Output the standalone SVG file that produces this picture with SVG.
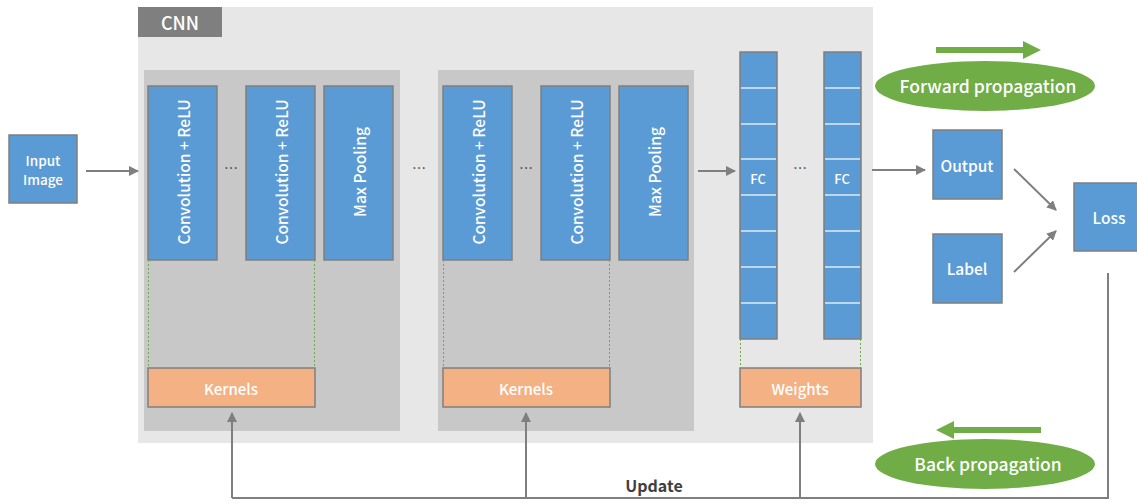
<svg xmlns="http://www.w3.org/2000/svg" width="1137" height="503" viewBox="0 0 1137 503">
<style>
.t{font-family:"Noto Sans CJK JP","Noto Sans",sans-serif;font-weight:500;fill:#fff;text-anchor:middle;dominant-baseline:central}
.blue{fill:#5b9bd5;stroke:#7f7f7f;stroke-width:1.5}
.orange{fill:#f4b183;stroke:#7f7f7f;stroke-width:1.5}
.conn{stroke:#7f7f7f;stroke-width:2;fill:none}
.dot{stroke:#70ad47;stroke-width:1;stroke-dasharray:2,2;fill:none}
.sep{stroke:#deebf7;stroke-width:1.5}
.dots{font-family:"Noto Sans CJK JP","Noto Sans",sans-serif;fill:#333;font-size:14px;text-anchor:middle}
</style>
<defs>
<marker id="ah" markerWidth="10" markerHeight="10" refX="9" refY="5" orient="auto" markerUnits="userSpaceOnUse">
<path d="M0,0 L10,5 L0,10 z" fill="#7f7f7f"/>
</marker>
</defs>
<rect width="1137" height="503" fill="#fff"/>
<g id="cnn">
<rect x="138" y="7" width="735" height="436" fill="#e7e7e7"/>
<rect x="138" y="7" width="84" height="30" fill="#7f7f7f"/>
<text class="t" x="180" y="22" font-size="18">CNN</text>
</g>
<g id="block1">
<rect x="144" y="70" width="256" height="361" fill="#c8c8c8"/>
</g>
<g id="block2">
<rect x="438" y="70" width="256" height="361" fill="#c8c8c8"/>
</g>
<g id="input">
<rect class="blue" x="9" y="135" width="68" height="68"/>
<text class="t" x="43" y="159.5" font-size="13.5">Input</text>
<text class="t" x="43" y="178.5" font-size="13.5">Image</text>
</g>
<g id="conv1a">
<rect class="blue" x="148" y="86" width="69" height="174"/>
<text class="t" font-size="15.5" transform="translate(183,172) rotate(-90)">Convolution + ReLU</text>
</g>
<g id="conv1b">
<rect class="blue" x="246" y="86" width="69" height="174"/>
<text class="t" font-size="15.5" transform="translate(281,172) rotate(-90)">Convolution + ReLU</text>
</g>
<g id="pool1">
<rect class="blue" x="324" y="86" width="69" height="174"/>
<text class="t" font-size="15.5" transform="translate(359,172) rotate(-90)">Max Pooling</text>
</g>
<g id="kernels1">
<rect class="orange" x="148" y="368" width="167" height="39"/>
<text class="t" x="231" y="388" font-size="15">Kernels</text>
</g>
<g id="conv2a">
<rect class="blue" x="443" y="86" width="69" height="174"/>
<text class="t" font-size="15.5" transform="translate(478,172) rotate(-90)">Convolution + ReLU</text>
</g>
<g id="conv2b">
<rect class="blue" x="541" y="86" width="69" height="174"/>
<text class="t" font-size="15.5" transform="translate(576,172) rotate(-90)">Convolution + ReLU</text>
</g>
<g id="pool2">
<rect class="blue" x="619" y="86" width="69" height="174"/>
<text class="t" font-size="15.5" transform="translate(654,172) rotate(-90)">Max Pooling</text>
</g>
<g id="kernels2">
<rect class="orange" x="443" y="368" width="167" height="39"/>
<text class="t" x="526" y="388" font-size="15">Kernels</text>
</g>
<g id="fc1">
<rect class="blue" x="740" y="52" width="37" height="287"/>
<line class="sep" x1="741" x2="776" y1="88" y2="88"/>
<line class="sep" x1="741" x2="776" y1="124" y2="124"/>
<line class="sep" x1="741" x2="776" y1="159" y2="159"/>
<line class="sep" x1="741" x2="776" y1="195" y2="195"/>
<line class="sep" x1="741" x2="776" y1="231" y2="231"/>
<line class="sep" x1="741" x2="776" y1="267" y2="267"/>
<line class="sep" x1="741" x2="776" y1="303" y2="303"/>
<text class="t" x="758" y="178" font-size="13">FC</text>
</g>
<g id="fc2">
<rect class="blue" x="824" y="52" width="37" height="287"/>
<line class="sep" x1="825" x2="860" y1="88" y2="88"/>
<line class="sep" x1="825" x2="860" y1="124" y2="124"/>
<line class="sep" x1="825" x2="860" y1="159" y2="159"/>
<line class="sep" x1="825" x2="860" y1="195" y2="195"/>
<line class="sep" x1="825" x2="860" y1="231" y2="231"/>
<line class="sep" x1="825" x2="860" y1="267" y2="267"/>
<line class="sep" x1="825" x2="860" y1="303" y2="303"/>
<text class="t" x="842" y="178" font-size="13">FC</text>
</g>
<g id="weights">
<rect class="orange" x="740" y="368" width="121" height="39"/>
<text class="t" x="800" y="388" font-size="15">Weights</text>
</g>
<g id="output">
<rect class="blue" x="933" y="130" width="69" height="69"/>
<text class="t" x="967" y="165" font-size="15.5">Output</text>
</g>
<g id="label">
<rect class="blue" x="933" y="234" width="69" height="69"/>
<text class="t" x="967" y="268" font-size="15.5">Label</text>
</g>
<g id="loss">
<rect class="blue" x="1074" y="183" width="70" height="68"/>
<text class="t" x="1109" y="217" font-size="15.5">Loss</text>
</g>
<g id="forward">
<path d="M936,47 H1023 V41 L1041,50 L1023,59 V53 H936 z" fill="#70ad47"/>
<ellipse cx="985" cy="86" rx="110" ry="25" fill="#70ad47"/>
<text class="t" x="988" y="85" font-size="17.5">Forward propagation</text>
</g>
<g id="back">
<path d="M1041,427 H954 V421 L936,430 L954,439 V433 H1041 z" fill="#70ad47"/>
<ellipse cx="985" cy="464" rx="110" ry="25" fill="#70ad47"/>
<text class="t" x="988" y="463" font-size="17.5">Back propagation</text>
</g>
<g id="ellipses">
<text class="dots" x="231" y="173">…</text>
<text class="dots" x="419" y="173">…</text>
<text class="dots" x="526" y="173">…</text>
<text class="dots" x="800" y="173">…</text>
</g>
<g id="connectors">
<path class="dot" d="M148.5,260 V368 M314.5,260 V368"/>
<path class="dot" d="M443.5,260 V368 M609.5,260 V368"/>
<path class="dot" d="M740.5,339 V368 M860.5,339 V368"/>
<line class="conn" x1="86" y1="171" x2="138" y2="171" marker-end="url(#ah)"/>
<line class="conn" x1="698" y1="171" x2="735" y2="171" marker-end="url(#ah)"/>
<line class="conn" x1="872" y1="170" x2="925" y2="170" marker-end="url(#ah)"/>
<line class="conn" x1="1014" y1="169" x2="1056" y2="210" marker-end="url(#ah)"/>
<line class="conn" x1="1014" y1="272" x2="1056" y2="231" marker-end="url(#ah)"/>
<path class="conn" d="M1108,273 V498 H232"/>
<line class="conn" x1="232" y1="498" x2="232" y2="413" marker-end="url(#ah)"/>
<line class="conn" x1="526" y1="498" x2="526" y2="413" marker-end="url(#ah)"/>
<line class="conn" x1="800" y1="498" x2="800" y2="413" marker-end="url(#ah)"/>
<text x="654" y="492" font-family="'Noto Sans CJK JP','Noto Sans',sans-serif" font-size="16" font-weight="bold" fill="#404040" text-anchor="middle">Update</text>
</g>
</svg>
